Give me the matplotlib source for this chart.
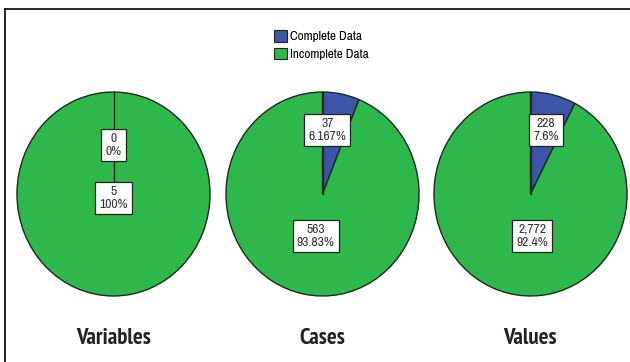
import matplotlib
matplotlib.use("Agg")
import numpy as np
import matplotlib.pyplot as plt
from matplotlib import font_manager
from matplotlib.font_manager import FontProperties
from matplotlib.patches import Patch
from matplotlib.lines import Line2D

# Missing-value summary: complete vs incomplete counts
panels = ["Variables", "Cases", "Values"]
complete = [0, 37, 228]
incomplete = [5, 563, 2772]
complete_pct = ["0%", "6.167%", "7.6%"]
incomplete_pct = ["100%", "93.83%", "92.4%"]
series_names = ["Complete Data", "Incomplete Data"]

BLUE = "#3c56a9"
GREEN = "#2eb84b"
EDGE = "#1c2a1c"


def _weight_num(w):
    if isinstance(w, (int, float)):
        return int(w)
    table = {"ultralight": 100, "light": 300, "normal": 400, "regular": 400,
             "book": 400, "medium": 500, "roman": 400, "semibold": 600,
             "demibold": 600, "demi": 600, "bold": 700, "heavy": 800,
             "extra bold": 800, "black": 900}
    return table.get(str(w).lower(), 400)


def pick_narrow_file(bold):
    """Return a font file of a narrow/condensed family with the wanted weight."""
    cands = []
    for f in font_manager.fontManager.ttflist:
        narrow = ("Narrow" in f.name or "Condensed" in f.name
                  or f.stretch in ("condensed", "semi-condensed"))
        if not narrow or f.style != "normal":
            continue
        w = _weight_num(f.weight)
        score = abs(w - (700 if bold else 400))
        pref = 0 if "Narrow" in f.name else 1
        cands.append((pref, score, f.fname))
    if not cands:
        return None
    cands.sort()
    best = cands[0]
    if best[1] > 150:
        return None
    return best[2]


def make_font(bold, size):
    path = pick_narrow_file(bold)
    if path:
        return FontProperties(fname=path, size=size)
    return FontProperties(family="DejaVu Sans", stretch="condensed",
                          weight="bold" if bold else "normal", size=size)


label_font = make_font(False, 9.8)
legend_font = make_font(False, 9.5)
title_font = make_font(True, 16.5)

W, H = 630, 362
fig = plt.figure(figsize=(W / 100, H / 100), dpi=100)
fig.patch.set_facecolor("white")

# pie geometry in pixels: centre x, centre y, radius x, radius y
centres_x = [113.5, 322.5, 530.5]
centre_y = 194
rx, ry = 97.5, 103

# label anchor points in pie-axes units (-1..1), per panel: (complete, incomplete)
label_pos = [
    ((0.0, 0.48), (0.0, -0.04)),
    ((0.05, 0.63), (-0.07, -0.41)),
    ((0.16, 0.63), (0.02, -0.41)),
]


def fmt_count(v):
    return f"{v:,}"


for i, name in enumerate(panels):
    cx = centres_x[i]
    ax = fig.add_axes([(cx - rx) / W, (H - centre_y - ry) / H, 2 * rx / W, 2 * ry / H])
    wedges, _ = ax.pie([complete[i], incomplete[i]], colors=[BLUE, GREEN],
                       startangle=90, counterclock=False, radius=1.0,
                       wedgeprops=dict(edgecolor=EDGE, linewidth=1.0))
    # boundary between the two slices at the start angle
    a = np.deg2rad(90)
    ax.plot([0, np.cos(a)], [0, np.sin(a)], color=EDGE, linewidth=1.0, zorder=3)
    ax.set_aspect("auto")
    ax.set_xlim(-1.01, 1.01)
    ax.set_ylim(-1.01, 1.01)
    ax.axis("off")

    texts = [f"{fmt_count(complete[i])}\n{complete_pct[i]}",
             f"{fmt_count(incomplete[i])}\n{incomplete_pct[i]}"]
    for t, (lx, ly) in zip(texts, label_pos[i]):
        ax.text(lx, ly, t, ha="center", va="center", fontproperties=label_font,
                color="#333333", linespacing=1.2, zorder=5,
                bbox=dict(boxstyle="square,pad=0.3", facecolor="white",
                          edgecolor="#222222", linewidth=0.9))

    fig.text(cx / W, 1 - 338 / H, name, ha="center", va="center",
             fontproperties=title_font, color="#222222")

handles = [Patch(facecolor=BLUE, edgecolor="#222222", linewidth=0.8),
           Patch(facecolor=GREEN, edgecolor="#222222", linewidth=0.8)]
fig.legend(handles, series_names, loc="upper left",
           bbox_to_anchor=(265 / W, 1 - 21 / H), frameon=False,
           handlelength=0.95, handleheight=0.95, handletextpad=0.25,
           labelspacing=0.4, borderpad=0.2, prop=legend_font)

# frame lines on left and top edges
fig.add_artist(Line2D([5 / W, 5 / W], [0, 1 - 9 / H], transform=fig.transFigure,
                      color="black", linewidth=1.2))
fig.add_artist(Line2D([5 / W, 1], [1 - 9 / H, 1 - 9 / H], transform=fig.transFigure,
                      color="black", linewidth=1.2))

fig.savefig("out.png", dpi=100, facecolor="white")
